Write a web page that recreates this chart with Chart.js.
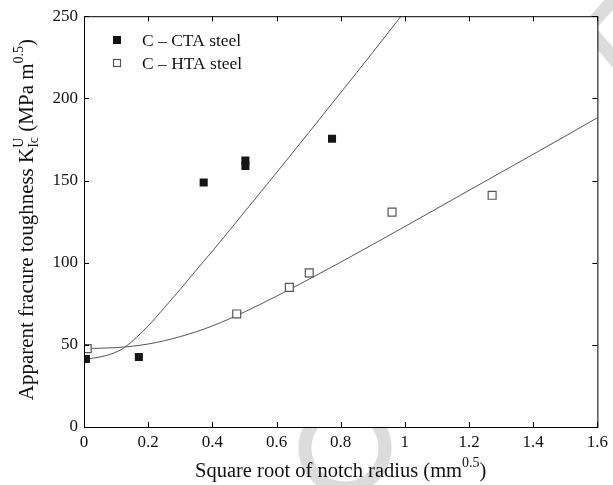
<!DOCTYPE html>
<html>
<head>
<meta charset="utf-8">
<script src="https://cdn.jsdelivr.net/npm/chart.js@4.4.1/dist/chart.umd.min.js"></script>
<style>
  html, body { margin: 0; padding: 0; background: #fff; }
  #wrap { width: 613px; height: 485px; }
</style>
</head>
<body>
<div id="wrap"><canvas id="chart" width="613" height="485"></canvas></div>
<script>
// ---------- données ----------
const xTicks = [0, 0.2, 0.4, 0.6, 0.8, 1, 1.2, 1.4, 1.6];
const yTicks = [0, 50, 100, 150, 200, 250];

const ctaLabel = 'C \u2013 CTA steel';
const ctaX = [0.006, 0.171, 0.373, 0.503, 0.503, 0.773];
const ctaY = [41.4, 42.6, 148.8, 158.9, 162.2, 175.4];

const htaLabel = 'C \u2013 HTA steel';
const htaX = [0.01, 0.476, 0.64, 0.702, 0.96, 1.272];
const htaY = [47.7, 68.8, 85.0, 93.8, 130.8, 141.0];

// courbes (lues point par point)
const ctaFitX = [0, 0.05, 0.1, 0.127, 0.2, 0.25, 0.3, 0.35, 0.4, 0.5, 0.6, 0.7, 0.8, 0.9, 1.0];
const ctaFitY = [41.2, 42.6, 45.6, 48.5, 61.5, 72.5, 83.8, 95.5, 107, 130.8, 154.8, 179, 203.5, 228, 253];

const htaFitX = [0, 0.1, 0.2, 0.3, 0.4, 0.5, 0.6, 0.7, 0.8, 0.9, 1.0, 1.1, 1.2, 1.3, 1.4, 1.5, 1.6];
const htaFitY = [47.8, 48.3, 50.5, 55, 61.5, 70, 79.6, 89.8, 100.3, 111.1, 122, 133, 144, 155, 166, 177, 188.2];

const toXY = (xs, ys) => xs.map((x, i) => ({ x: x, y: ys[i] }));

const serif = '"Liberation Serif", "DejaVu Serif", serif';

// texte avec exposants / indices
function richWidth(ctx, parts) {
  let w = 0;
  parts.forEach(p => {
    ctx.font = p.size + 'px ' + serif;
    if (!p.stack) w += ctx.measureText(p.t).width;
    else {
      let m = 0;
      p.stack.forEach(s => { ctx.font = s.size + 'px ' + serif; m = Math.max(m, ctx.measureText(s.t).width); });
      w += m;
    }
  });
  return w;
}
function richDraw(ctx, parts, x, y) {
  parts.forEach(p => {
    if (!p.stack) {
      ctx.font = p.size + 'px ' + serif;
      ctx.fillText(p.t, x, y + (p.dy || 0));
      x += ctx.measureText(p.t).width;
    } else {
      let m = 0;
      p.stack.forEach(s => {
        ctx.font = s.size + 'px ' + serif;
        ctx.fillText(s.t, x, y + s.dy);
        m = Math.max(m, ctx.measureText(s.t).width);
      });
      x += m;
    }
  });
}

const xTitle = [
  { t: 'Square root of notch radius (mm', size: 20.5 },
  { t: '0.5', size: 14, dy: -10 },
  { t: ')', size: 20.5 }
];
const yTitle = [
  { t: 'Apparent fracure toughness K', size: 21 },
  { stack: [{ t: 'U', size: 14, dy: -10 }, { t: 'Ic', size: 14, dy: 5 }] },
  { t: ' (MPa m', size: 21 },
  { t: '0.5', size: 14, dy: -10 },
  { t: ')', size: 21 }
];

const framePlugin = {
  id: 'frame',
  beforeDraw(chart) {
    const ctx = chart.ctx;
    const a = chart.chartArea;
    ctx.save();
    // filigrane gris
    ctx.strokeStyle = '#dcdcdc';
    ctx.lineWidth = 13;
    ctx.beginPath();
    ctx.arc(345, 448, 40, 0, Math.PI * 2);
    ctx.stroke();
    ctx.beginPath();
    ctx.moveTo(640, -30); ctx.lineTo(588, 28); ctx.lineTo(640, 90);
    ctx.stroke();
    ctx.fillStyle = '#fff';
    ctx.fillRect(a.left, a.top, a.right - a.left, a.bottom - a.top);
    ctx.restore();
  },
  afterDraw(chart) {
    const ctx = chart.ctx;
    const a = chart.chartArea;
    const xs = chart.scales.x, ys = chart.scales.y;
    ctx.save();
    ctx.strokeStyle = '#000';
    ctx.lineWidth = 1;
    ctx.strokeRect(a.left + 0.5, a.top + 0.5, a.right - a.left, a.bottom - a.top);
    ctx.beginPath();
    xTicks.forEach(v => {
      const px = Math.round(xs.getPixelForValue(v)) + 0.5;
      ctx.moveTo(px, a.bottom); ctx.lineTo(px, a.bottom - 5);
      ctx.moveTo(px, a.top); ctx.lineTo(px, a.top + 5);
    });
    yTicks.forEach(v => {
      const py = Math.round(ys.getPixelForValue(v)) + 0.5;
      ctx.moveTo(a.left, py); ctx.lineTo(a.left + 5, py);
      ctx.moveTo(a.right, py); ctx.lineTo(a.right - 5, py);
    });
    ctx.stroke();

    // légende
    ctx.fillStyle = '#111';
    ctx.font = '17.5px ' + serif;
    ctx.textBaseline = 'alphabetic';
    ctx.textAlign = 'left';
    ctx.fillRect(113, 36, 8, 8);
    ctx.fillText(chart.data.datasets[0].label, 142, 46);
    ctx.strokeStyle = '#555';
    ctx.lineWidth = 1.2;
    ctx.strokeRect(113.5, 59.5, 7, 7);
    ctx.fillText(chart.data.datasets[1].label, 142, 69);

    // titres des axes
    ctx.fillStyle = '#111';
    const wx = richWidth(ctx, xTitle);
    richDraw(ctx, xTitle, (a.left + a.right) / 2 - wx / 2, 477);
    const wy = richWidth(ctx, yTitle);
    ctx.translate(33, (a.top + a.bottom) / 2 - 2);
    ctx.rotate(-Math.PI / 2);
    richDraw(ctx, yTitle, -wy / 2, 0);
    ctx.restore();
  }
};

new Chart(document.getElementById('chart'), {
  type: 'scatter',
  data: {
    datasets: [
      {
        label: ctaLabel,
        data: toXY(ctaX, ctaY),
        pointStyle: 'rect',
        pointRadius: 5.7,
        backgroundColor: '#161616',
        borderColor: '#161616',
        borderWidth: 0,
        order: 1
      },
      {
        label: htaLabel,
        data: toXY(htaX, htaY),
        pointStyle: 'rect',
        pointRadius: 5.6,
        backgroundColor: '#fff',
        borderColor: '#555',
        borderWidth: 1.2,
        order: 1
      },
      {
        label: 'fit CTA',
        data: toXY(ctaFitX, ctaFitY),
        showLine: true,
        pointRadius: 0,
        borderColor: '#555',
        borderWidth: 1,
        cubicInterpolationMode: 'monotone',
        order: 2
      },
      {
        label: 'fit HTA',
        data: toXY(htaFitX, htaFitY),
        showLine: true,
        pointRadius: 0,
        borderColor: '#555',
        borderWidth: 1,
        cubicInterpolationMode: 'monotone',
        order: 2
      }
    ]
  },
  options: {
    responsive: false,
    animation: false,
    events: [],
    layout: { padding: { top: 16, right: 14, left: 0, bottom: 0 } },
    plugins: { legend: { display: false }, tooltip: { enabled: false } },
    scales: {
      x: {
        type: 'linear',
        min: 0, max: 1.6,
        afterBuildTicks: s => { s.ticks = xTicks.map(v => ({ value: v })); },
        afterFit: s => { s.height = 58; },
        grid: { display: false, drawTicks: false },
        border: { display: false },
        ticks: {
          padding: 5,
          color: '#111',
          font: { family: serif, size: 17 },
          callback: v => String(v)
        }
      },
      y: {
        type: 'linear',
        min: 0, max: 250,
        afterBuildTicks: s => { s.ticks = yTicks.map(v => ({ value: v })); },
        afterFit: s => { s.width = 84; },
        grid: { display: false, drawTicks: false },
        border: { display: false },
        ticks: {
          padding: 6,
          color: '#111',
          font: { family: serif, size: 17 },
          callback: v => String(v)
        }
      }
    }
  },
  plugins: [framePlugin]
});
</script>
</body>
</html>
